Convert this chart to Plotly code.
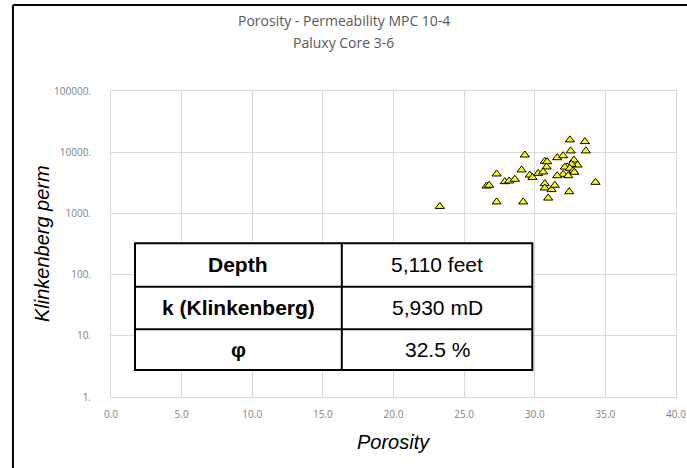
import plotly.graph_objects as go

porosity = [23.28, 27.30, 26.59, 26.77, 27.88, 28.19, 28.59, 29.07, 29.30, 29.65,
            29.84, 30.24, 27.30, 29.18, 30.71, 30.88, 30.84, 30.60, 30.71, 30.71,
            31.19, 31.42, 30.95, 31.59, 32.01, 32.49, 32.54, 33.55, 33.62, 32.77,
            33.03, 32.60, 32.29, 32.13, 32.48, 32.72, 32.80, 32.01, 32.37, 31.59,
            32.44, 34.30]
klinkenberg_perm = [1300, 4410, 2800, 2880, 3300, 3390, 3610, 5130, 9000, 4230,
                    3870, 4510, 1540, 1540, 7110, 7000, 5740, 4750, 3070, 2600,
                    2450, 2880, 1780, 8130, 8770, 15900, 10500, 14900, 10500, 7450,
                    6170, 6340, 5790, 5700, 5450, 4980, 4700, 4350, 4130, 4130,
                    2260, 3220]

y_tick_vals = [1, 10, 100, 1000, 10000, 100000]
y_tick_text = ["1.", "10.", "100.", "1000.", "10000.", "100000."]

title_lines = ["Porosity - Permeability MPC 10-4", "Paluxy Core 3-6"]
x_title = "Porosity"
y_title = "Klinkenberg perm"

table_labels = ["Depth", "k (Klinkenberg)", "φ"]
table_values = ["5,110 feet", "5,930 mD", "32.5 %"]

fig = go.Figure()
fig.add_trace(go.Scatter(
    x=porosity, y=klinkenberg_perm, mode="markers",
    marker=dict(symbol="triangle-up", size=8, color="#ffff00",
                line=dict(color="black", width=1)),
    showlegend=False,
))

grid = "#d9d9d9"
tickfont = dict(family="Open Sans", size=10, color="#808080")
fig.update_layout(
    width=700, height=480,
    margin=dict(l=111, r=24, t=91, b=83, autoexpand=False),
    paper_bgcolor="white", plot_bgcolor="white",
    xaxis=dict(range=[0, 40], dtick=5, tickformat=".1f", showgrid=True,
               gridcolor=grid, gridwidth=1, zeroline=False, showline=True,
               linecolor=grid, mirror=True, tickfont=tickfont,
               ticklabelstandoff=8, automargin=False),
    yaxis=dict(type="log", range=[0, 5], tickvals=y_tick_vals, ticktext=y_tick_text,
               showgrid=True, gridcolor=grid, gridwidth=1, zeroline=False,
               showline=True, linecolor=grid, mirror=True, tickfont=tickfont,
               ticklabelstandoff=17, automargin=False),
)

# titles
title_font = dict(family="Open Sans", size=14, color="#595959")
for txt, yy in zip(title_lines, [1.232, 1.160]):
    fig.add_annotation(xref="paper", yref="paper", x=0.412, y=yy, text=txt,
                       showarrow=False, font=title_font,
                       xanchor="center", yanchor="middle")
fig.add_annotation(xref="paper", yref="paper", x=0.5, y=-0.147,
                   text="<i>%s</i>" % x_title, showarrow=False,
                   font=dict(family="Liberation Sans", size=20, color="black"),
                   xanchor="center", yanchor="middle")
fig.add_annotation(xref="paper", yref="paper", x=-0.122, y=0.5,
                   text="<i>%s</i>" % y_title, showarrow=False, textangle=-90,
                   font=dict(family="Liberation Sans", size=20, color="black"),
                   xanchor="center", yanchor="middle")

# outer frame of the picture (only left and top edges fall inside the view)
fig.add_shape(type="line", xref="paper", yref="paper",
              x0=-0.1735, x1=-0.1735, y0=-1.0, y1=1.281,
              line=dict(color="black", width=2), layer="above")
fig.add_shape(type="line", xref="paper", yref="paper",
              x0=-0.1735, x1=2.0, y0=1.281, y1=1.281,
              line=dict(color="black", width=2), layer="above")

# inset table
tx0, tx1, tx2 = 0.0425, 0.4085, 0.7457
ty = [0.5023, 0.3605, 0.2212, 0.0882]
fig.add_shape(type="rect", xref="paper", yref="paper", x0=tx0, x1=tx2, y0=ty[3], y1=ty[0],
              line=dict(color="black", width=2), fillcolor="white", layer="above")
fig.add_shape(type="line", xref="paper", yref="paper", x0=tx1, x1=tx1, y0=ty[3], y1=ty[0],
              line=dict(color="black", width=2), layer="above")
for yy in ty[1:3]:
    fig.add_shape(type="line", xref="paper", yref="paper", x0=tx0, x1=tx2, y0=yy, y1=yy,
                  line=dict(color="black", width=2), layer="above")
for i, (lab, val) in enumerate(zip(table_labels, table_values)):
    yc = (ty[i] + ty[i + 1]) / 2
    fig.add_annotation(xref="paper", yref="paper", x=(tx0 + tx1) / 2, y=yc,
                       text="<b>%s</b>" % lab, showarrow=False,
                       font=dict(family="Liberation Sans", size=21, color="black"),
                       xanchor="center", yanchor="middle")
    fig.add_annotation(xref="paper", yref="paper", x=(tx1 + tx2) / 2, y=yc,
                       text=val, showarrow=False,
                       font=dict(family="Liberation Sans", size=21, color="black"),
                       xanchor="center", yanchor="middle")

fig.write_html("out.html", config={"displayModeBar": False},
               post_script="document.body.style.margin='0';document.body.style.overflow='hidden';")
